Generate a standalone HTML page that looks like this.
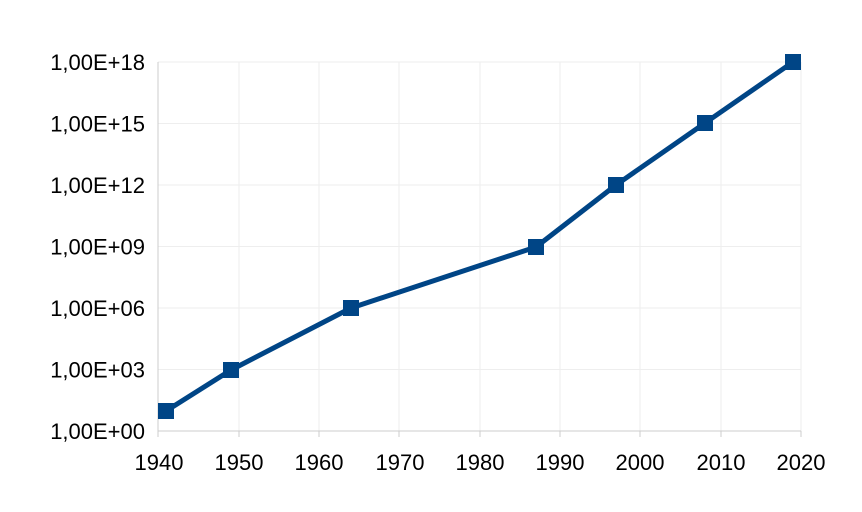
<!DOCTYPE html>
<html><head><meta charset="utf-8"><style>html,body{margin:0;padding:0;background:#fff}svg{display:block}</style></head>
<body>
<svg width="862" height="512" viewBox="0 0 862 512" xmlns="http://www.w3.org/2000/svg" font-family="Liberation Sans, sans-serif" font-size="22" fill="#000">
<g stroke="#eeeeee" stroke-width="1">
<line x1="158" y1="62" x2="801" y2="62"/>
<line x1="158" y1="123.5" x2="801" y2="123.5"/>
<line x1="158" y1="185" x2="801" y2="185"/>
<line x1="158" y1="246.5" x2="801" y2="246.5"/>
<line x1="158" y1="308" x2="801" y2="308"/>
<line x1="158" y1="369.5" x2="801" y2="369.5"/>
<line x1="239" y1="62" x2="239" y2="431"/>
<line x1="319" y1="62" x2="319" y2="431"/>
<line x1="399" y1="62" x2="399" y2="431"/>
<line x1="480" y1="62" x2="480" y2="431"/>
<line x1="560" y1="62" x2="560" y2="431"/>
<line x1="640" y1="62" x2="640" y2="431"/>
<line x1="721" y1="62" x2="721" y2="431"/>
<line x1="801" y1="62" x2="801" y2="431"/>
</g>
<g stroke="#cccccc" stroke-width="1">
<line x1="158" y1="62" x2="158" y2="431"/>
<line x1="158" y1="431" x2="801" y2="431"/>
<line x1="158" y1="431" x2="158" y2="437"/><line x1="239" y1="431" x2="239" y2="437"/><line x1="319" y1="431" x2="319" y2="437"/><line x1="399" y1="431" x2="399" y2="437"/><line x1="480" y1="431" x2="480" y2="437"/><line x1="560" y1="431" x2="560" y2="437"/><line x1="640" y1="431" x2="640" y2="437"/><line x1="721" y1="431" x2="721" y2="437"/><line x1="801" y1="431" x2="801" y2="437"/>
</g>
<g text-anchor="end">
<text x="145" y="70">1,00E+18</text>
<text x="145" y="131.5">1,00E+15</text>
<text x="145" y="193">1,00E+12</text>
<text x="145" y="254.5">1,00E+09</text>
<text x="145" y="316">1,00E+06</text>
<text x="145" y="377.5">1,00E+03</text>
<text x="145" y="439">1,00E+00</text>
</g>
<g text-anchor="middle">
<text x="159" y="470">1940</text><text x="239" y="470">1950</text><text x="319" y="470">1960</text><text x="400" y="470">1970</text><text x="480" y="470">1980</text><text x="560" y="470">1990</text><text x="640" y="470">2000</text><text x="721" y="470">2010</text><text x="801" y="470">2020</text>
</g>
<polyline fill="none" stroke="#004586" stroke-width="5" stroke-linejoin="round" points="166,411 231,370 351,308 536,247 616,185 705,123 793,62"/>
<g fill="#004586">
<rect x="158" y="403" width="16" height="16"/>
<rect x="223" y="362" width="16" height="16"/>
<rect x="343" y="300" width="16" height="16"/>
<rect x="528" y="239" width="16" height="16"/>
<rect x="608" y="177" width="16" height="16"/>
<rect x="697" y="115" width="16" height="16"/>
<rect x="785" y="54" width="16" height="16"/>
</g>
</svg>
</body></html>
